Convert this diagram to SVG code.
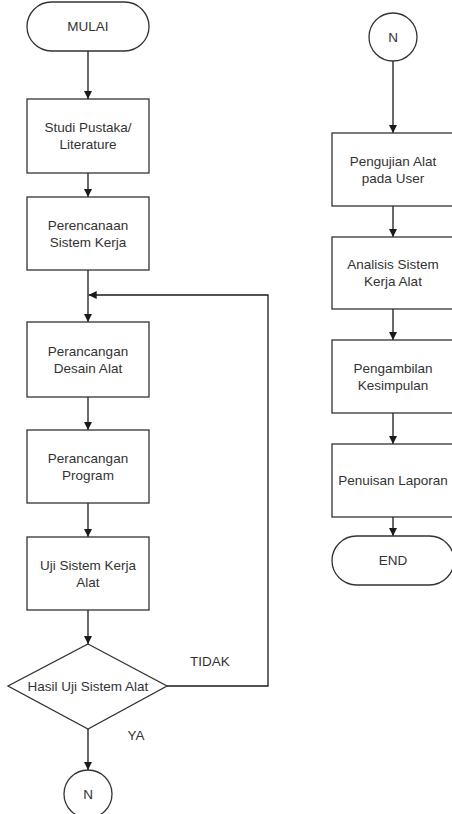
<svg xmlns="http://www.w3.org/2000/svg" width="452" height="814" viewBox="0 0 452 814">
<defs>
<marker id="arr" viewBox="0 0 10 10" refX="10" refY="5" markerWidth="8" markerHeight="8" markerUnits="userSpaceOnUse" orient="auto">
<path d="M0,0 L10,5 L0,10 z" fill="#1a1a1a"/>
</marker>
<style>
.shape{fill:#fff;stroke:#333;stroke-width:1.3}
.t{font-family:"Liberation Sans",Arial,sans-serif;font-size:13.5px;fill:#333;text-anchor:middle;dominant-baseline:central}
.c{fill:none;stroke:#1a1a1a;stroke-width:1.3;marker-end:url(#arr)}
.l{fill:none;stroke:#1a1a1a;stroke-width:1.3}
</style>
</defs>
<rect width="452" height="814" fill="#fff"/>
<g id="connectors">
<line class="c" x1="88" y1="51" x2="88" y2="99"/>
<line class="c" x1="88" y1="173" x2="88" y2="197"/>
<line class="c" x1="88" y1="270" x2="88" y2="322"/>
<line class="c" x1="88" y1="397" x2="88" y2="430"/>
<line class="c" x1="88" y1="503" x2="88" y2="537"/>
<line class="c" x1="88" y1="610" x2="88" y2="644"/>
<polyline class="c" points="167,686 268,686 268,295 88.7,295"/>
<line class="c" x1="88" y1="729" x2="88" y2="770"/>
<line class="c" x1="393" y1="61" x2="393" y2="133"/>
<line class="c" x1="393" y1="206" x2="393" y2="237"/>
<line class="c" x1="393" y1="309" x2="393" y2="340"/>
<line class="c" x1="393" y1="413" x2="393" y2="444"/>
<line class="c" x1="393" y1="517" x2="393" y2="536"/>
<text class="t" x="210" y="661">TIDAK</text>
<text class="t" x="136" y="735">YA</text>
</g>
<g id="mulai">
<rect class="shape" x="27" y="2" width="122" height="49" rx="24.5"/>
<text class="t" x="88" y="26.5">MULAI</text>
</g>
<g id="studi">
<rect class="shape" x="27" y="99" width="122" height="74"/>
<text class="t" x="88" y="127.5">Studi Pustaka/</text>
<text class="t" x="88" y="144.5">Literature</text>
</g>
<g id="perencanaan">
<rect class="shape" x="27" y="197" width="122" height="73"/>
<text class="t" x="88" y="225">Perencanaan</text>
<text class="t" x="88" y="242">Sistem Kerja</text>
</g>
<g id="desain">
<rect class="shape" x="27" y="322" width="122" height="75"/>
<text class="t" x="88" y="351">Perancangan</text>
<text class="t" x="88" y="368">Desain Alat</text>
</g>
<g id="program">
<rect class="shape" x="27" y="430" width="122" height="73"/>
<text class="t" x="88" y="458">Perancangan</text>
<text class="t" x="88" y="475">Program</text>
</g>
<g id="uji">
<rect class="shape" x="27" y="537" width="122" height="73"/>
<text class="t" x="88" y="565">Uji Sistem Kerja</text>
<text class="t" x="88" y="582">Alat</text>
</g>
<g id="hasil">
<polygon class="shape" points="88,644 167,686 88,729 8,686"/>
<text class="t" x="88" y="686">Hasil Uji Sistem Alat</text>
</g>
<g id="n1">
<circle class="shape" cx="88" cy="794" r="24"/>
<text class="t" x="88" y="794">N</text>
</g>
<g id="n2">
<circle class="shape" cx="393" cy="37" r="24"/>
<text class="t" x="393" y="37">N</text>
</g>
<g id="pengujian">
<rect class="shape" x="332" y="133" width="122" height="73"/>
<text class="t" x="393" y="161">Pengujian Alat</text>
<text class="t" x="393" y="178">pada User</text>
</g>
<g id="analisis">
<rect class="shape" x="332" y="237" width="122" height="72"/>
<text class="t" x="393" y="264.5">Analisis Sistem</text>
<text class="t" x="393" y="281.5">Kerja Alat</text>
</g>
<g id="pengambilan">
<rect class="shape" x="332" y="340" width="122" height="73"/>
<text class="t" x="393" y="368">Pengambilan</text>
<text class="t" x="393" y="385">Kesimpulan</text>
</g>
<g id="penulisan">
<rect class="shape" x="332" y="444" width="122" height="73"/>
<text class="t" x="393" y="480.5">Penuisan Laporan</text>
</g>
<g id="end">
<rect class="shape" x="332" y="536" width="122" height="49" rx="24.5"/>
<text class="t" x="393" y="560.5">END</text>
</g>
</svg>
